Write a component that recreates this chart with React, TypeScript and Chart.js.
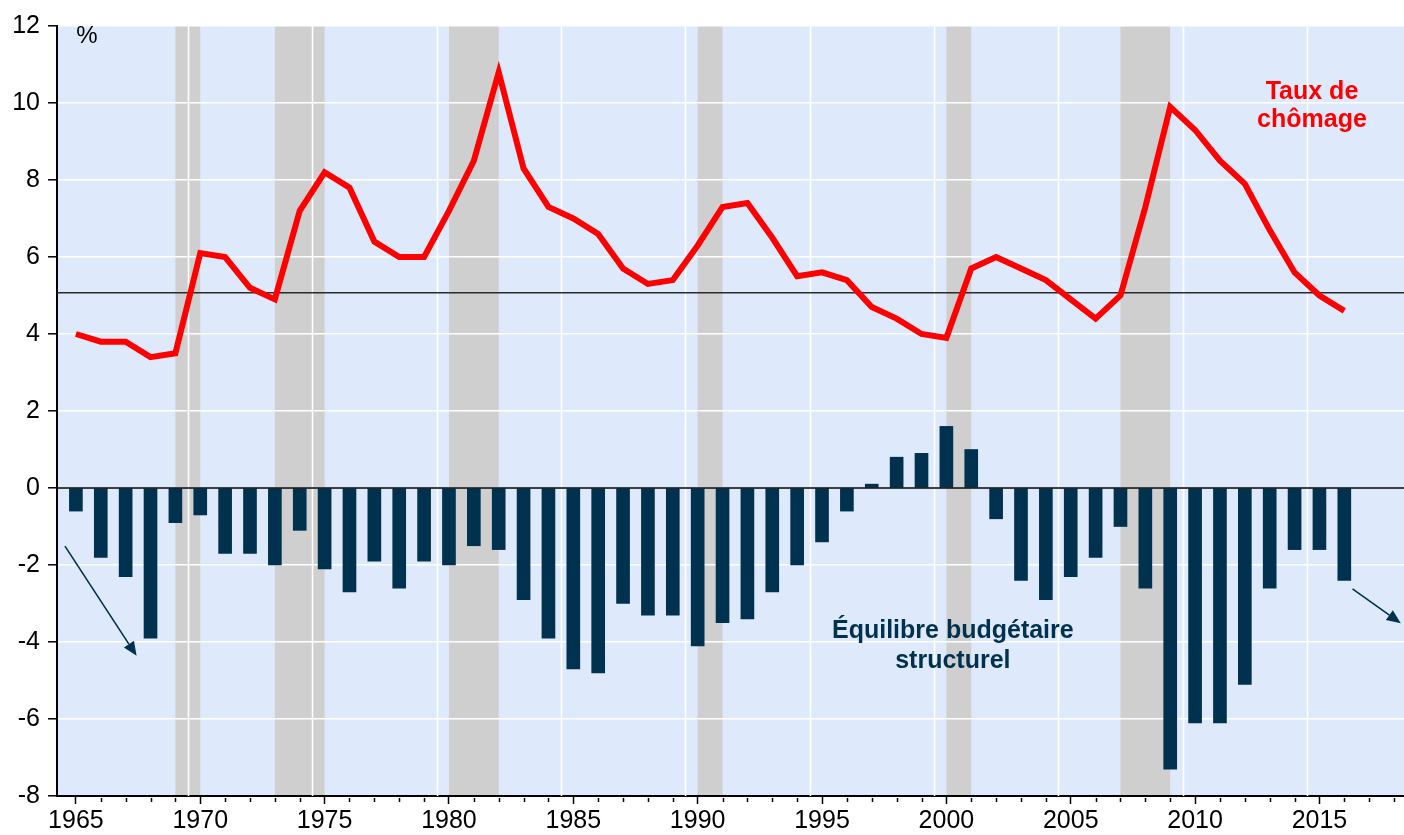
import React, { useEffect, useRef } from "react";
import { Chart, registerables } from "chart.js";

Chart.register(...registerables);

const years: number[] = [
  1965, 1966, 1967, 1968, 1969, 1970, 1971, 1972, 1973, 1974,
  1975, 1976, 1977, 1978, 1979, 1980, 1981, 1982, 1983, 1984,
  1985, 1986, 1987, 1988, 1989, 1990, 1991, 1992, 1993, 1994,
  1995, 1996, 1997, 1998, 1999, 2000, 2001, 2002, 2003, 2004,
  2005, 2006, 2007, 2008, 2009, 2010, 2011, 2012, 2013, 2014,
  2015, 2016,
];

const unemployment: number[] = [
  4.0, 3.8, 3.8, 3.4, 3.5, 6.1, 6.0, 5.2, 4.9, 7.2,
  8.2, 7.8, 6.4, 6.0, 6.0, 7.2, 8.5, 10.8, 8.3, 7.3,
  7.0, 6.6, 5.7, 5.3, 5.4, 6.3, 7.3, 7.4, 6.5, 5.5,
  5.6, 5.4, 4.7, 4.4, 4.0, 3.9, 5.7, 6.0, 5.7, 5.4,
  4.9, 4.4, 5.0, 7.3, 9.9, 9.3, 8.5, 7.9, 6.7, 5.6,
  5.0, 4.6,
];

const structuralBalance: number[] = [
  -0.6, -1.8, -2.3, -3.9, -0.9, -0.7, -1.7, -1.7, -2.0, -1.1,
  -2.1, -2.7, -1.9, -2.6, -1.9, -2.0, -1.5, -1.6, -2.9, -3.9,
  -4.7, -4.8, -3.0, -3.3, -3.3, -4.1, -3.5, -3.4, -2.7, -2.0,
  -1.4, -0.6, 0.1, 0.8, 0.9, 1.6, 1.0, -0.8, -2.4, -2.9,
  -2.3, -1.8, -1.0, -2.6, -7.3, -6.1, -6.1, -5.1, -2.6, -1.6,
  -1.6, -2.4,
];

// Recession periods [start, end] in years
const recessionStarts: number[] = [1969, 1973, 1980, 1990, 2000, 2007];
const recessionEnds: number[] = [1970, 1975, 1982, 1991, 2001, 2009];

const majorTickYears: number[] = [1965, 1970, 1975, 1980, 1985, 1990, 1995, 2000, 2005, 2010, 2015];
const verticalGridYears: number[] = [1969.5, 1974.5, 1979.5, 1984.5, 1989.5, 1994.5, 1999.5, 2004.5, 2009.5, 2014.5];
const yTickValues: number[] = [-8, -6, -4, -2, 0, 2, 4, 6, 8, 10, 12];

const referenceLevel = 5.07;

// Arrow annotations in data coordinates: [x0, y0, x1, y1]
const leftArrow: number[] = [1964.56, -1.51, 1967.44, -4.36];
const rightArrow: number[] = [2016.33, -2.62, 2018.27, -3.51];

const X_MIN = 1964.24;
const X_MAX = 2018.4;

const FONT = '"Liberation Sans", Arial, Helvetica, sans-serif';
const BG = "rgb(222,234,251)";
const GREY = "rgb(207,207,207)";
const NAVY = "#00314e";
const RED = "#ff0000";

const decorPlugin = {
  id: "decor",
  beforeDraw(chart: any) {
    const { ctx, chartArea, scales } = chart;
    const xs = scales.x;
    ctx.save();
    ctx.fillStyle = BG;
    ctx.fillRect(chartArea.left, chartArea.top, chartArea.right - chartArea.left, chartArea.bottom - chartArea.top);
    ctx.fillStyle = GREY;
    for (let i = 0; i < recessionStarts.length; i++) {
      const a = xs.getPixelForValue(recessionStarts[i]);
      const b = xs.getPixelForValue(recessionEnds[i]);
      ctx.fillRect(a, chartArea.top, b - a, chartArea.bottom - chartArea.top);
    }
    ctx.restore();
  },
  beforeDatasetsDraw(chart: any) {
    const { ctx, chartArea, scales } = chart;
    const xs = scales.x;
    const ys = scales.y;
    ctx.save();
    ctx.strokeStyle = "#ffffff";
    ctx.lineWidth = 1.6;
    for (const g of verticalGridYears) {
      const px = Math.round(xs.getPixelForValue(g)) + 0.5;
      ctx.beginPath();
      ctx.moveTo(px, chartArea.top);
      ctx.lineTo(px, chartArea.bottom);
      ctx.stroke();
    }
    // reference horizontal line
    const py = ys.getPixelForValue(referenceLevel);
    ctx.strokeStyle = "#2a2a2a";
    ctx.lineWidth = 1.6;
    ctx.beginPath();
    ctx.moveTo(chartArea.left, py);
    ctx.lineTo(chartArea.right, py);
    ctx.stroke();
    ctx.restore();
  },
  afterDatasetsDraw(chart: any) {
    const { ctx, chartArea, scales } = chart;
    const xs = scales.x;
    const ys = scales.y;
    ctx.save();
    // zero line
    const p0 = ys.getPixelForValue(0);
    ctx.strokeStyle = "#000";
    ctx.lineWidth = 1.4;
    ctx.beginPath();
    ctx.moveTo(chartArea.left, p0);
    ctx.lineTo(chartArea.right, p0);
    ctx.stroke();

    // arrows
    const drawArrow = (arr: number[]) => {
      const x0 = xs.getPixelForValue(arr[0]);
      const y0 = ys.getPixelForValue(arr[1]);
      const x1 = xs.getPixelForValue(arr[2]);
      const y1 = ys.getPixelForValue(arr[3]);
      const ang = Math.atan2(y1 - y0, x1 - x0);
      const headLen = 14;
      const headW = 6;
      const bx = x1 - headLen * Math.cos(ang);
      const by = y1 - headLen * Math.sin(ang);
      ctx.strokeStyle = NAVY;
      ctx.fillStyle = NAVY;
      ctx.lineWidth = 1.6;
      ctx.beginPath();
      ctx.moveTo(x0, y0);
      ctx.lineTo(bx, by);
      ctx.stroke();
      ctx.beginPath();
      ctx.moveTo(x1, y1);
      ctx.lineTo(bx + headW * Math.sin(ang), by - headW * Math.cos(ang));
      ctx.lineTo(bx - headW * Math.sin(ang), by + headW * Math.cos(ang));
      ctx.closePath();
      ctx.fill();
    };
    drawArrow(leftArrow);
    drawArrow(rightArrow);

    // labels
    ctx.textAlign = "center";
    ctx.textBaseline = "middle";
    ctx.fillStyle = RED;
    ctx.font = `bold 25px ${FONT}`;
    ctx.fillText("Taux de", xs.getPixelForValue(2014.7), ys.getPixelForValue(10.29));
    ctx.fillText("chômage", xs.getPixelForValue(2014.7), ys.getPixelForValue(9.55));

    ctx.fillStyle = NAVY;
    ctx.font = `bold 25px ${FONT}`;
    ctx.fillText("Équilibre budgétaire", xs.getPixelForValue(2000.26), ys.getPixelForValue(-3.72));
    ctx.fillText("structurel", xs.getPixelForValue(2000.26), ys.getPixelForValue(-4.5));

    ctx.fillStyle = "#000";
    ctx.font = `24px ${FONT}`;
    ctx.fillText("%", xs.getPixelForValue(1965.44), ys.getPixelForValue(11.74));
    ctx.restore();
  },
  afterDraw(chart: any) {
    const { ctx, chartArea, scales } = chart;
    const xs = scales.x;
    ctx.save();
    ctx.strokeStyle = "#000";
    ctx.lineWidth = 1.5;
    for (let yr = 1965; yr <= 2018; yr++) {
      if (yr % 5 === 0) continue;
      const px = Math.round(xs.getPixelForValue(yr)) + 0.5;
      ctx.beginPath();
      ctx.moveTo(px, chartArea.bottom + 2);
      ctx.lineTo(px, chartArea.bottom + 6);
      ctx.stroke();
    }
    ctx.restore();
  },
};

export default function App() {
  const canvasRef = useRef<HTMLCanvasElement | null>(null);

  useEffect(() => {
    const canvas = canvasRef.current;
    if (!canvas) return;
    const lineData = years.map((y, i) => ({ x: y, y: unemployment[i] }));
    const barData = years.map((y, i) => ({ x: y, y: structuralBalance[i] }));

    const chart = new Chart(canvas, {
      type: "bar",
      data: {
        datasets: [
          {
            type: "line",
            label: "Taux de chômage",
            data: lineData,
            borderColor: RED,
            borderWidth: 6,
            pointRadius: 0,
            tension: 0,
            borderJoinStyle: "miter",
            order: 0,
          } as any,
          {
            type: "bar",
            label: "Équilibre budgétaire structurel",
            data: barData,
            backgroundColor: NAVY,
            borderWidth: 0,
            barThickness: 13,
            order: 1,
          } as any,
        ],
      },
      options: {
        responsive: false,
        animation: false,
        devicePixelRatio: 1,
        layout: { padding: { top: 26, left: 0, right: 0, bottom: 0 } },
        plugins: {
          legend: { display: false },
          tooltip: { enabled: false },
        },
        scales: {
          x: {
            type: "linear",
            min: X_MIN,
            max: X_MAX,
            offset: false,
            afterBuildTicks: (scale: any) => {
              scale.ticks = majorTickYears.map((v) => ({ value: v }));
            },
            afterFit: (scale: any) => {
              scale.height = 39;
            },
            ticks: {
              autoSkip: false,
              maxRotation: 0,
              padding: 2,
              color: "#000",
              font: { family: FONT, size: 25 },
              callback: (v: any) => String(v),
            },
            grid: {
              offset: false,
              drawOnChartArea: false,
              drawTicks: true,
              tickLength: 8,
              tickColor: "#000",
              tickWidth: 1.5,
            },
            border: { display: true, color: "#000", width: 2 },
          },
          y: {
            type: "linear",
            min: -8,
            max: 12,
            afterBuildTicks: (scale: any) => {
              scale.ticks = yTickValues.map((v) => ({ value: v }));
            },
            afterFit: (scale: any) => {
              scale.width = 57;
            },
            ticks: {
              padding: 8,
              color: "#000",
              font: { family: FONT, size: 25 },
              callback: (v: any) => String(v),
            },
            grid: {
              color: "#ffffff",
              lineWidth: 1.6,
              drawTicks: true,
              tickLength: 9,
              tickColor: "#000",
              tickWidth: 1.5,
            },
            border: { display: true, color: "#000", width: 2 },
          },
        },
      },
      plugins: [decorPlugin],
    });
    return () => chart.destroy();
  }, []);

  return (
    <div style={{ position: "fixed", top: 0, left: 0, width: 1404, height: 835, background: "#fff" }}>
      <canvas ref={canvasRef} width={1404} height={835} style={{ display: "block" }} />
    </div>
  );
}
